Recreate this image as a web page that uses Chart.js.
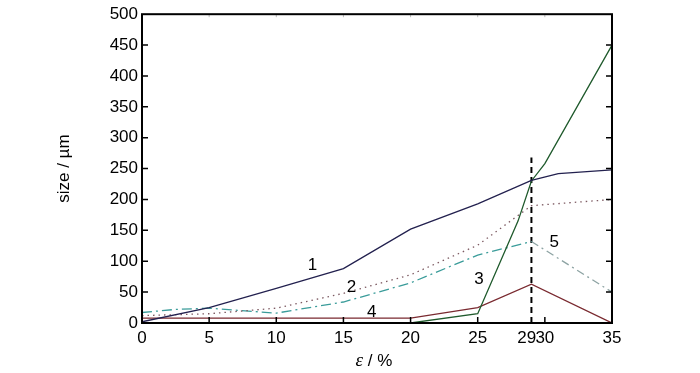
<!DOCTYPE html>
<html>
<head>
<meta charset="utf-8">
<script src="https://cdn.jsdelivr.net/npm/chart.js@4.4.1/dist/chart.umd.min.js"></script>
<style>
  html, body { margin: 0; padding: 0; background: #fff; }
  #wrap { width: 700px; height: 373px; }
</style>
</head>
<body>
<div id="wrap"><canvas id="chart"></canvas></div>
<script>
// strain (%) and grain size (um)
const xTicks = [0, 5, 10, 15, 20, 25, 29, 30, 35];
const yTicks = [0, 50, 100, 150, 200, 250, 300, 350, 400, 450, 500];

const x1 = [0, 5, 10, 15, 20, 25, 29, 31, 35];
const y1 = [2, 25, 56, 88, 152, 193, 231, 242, 248];

const x2 = [0, 5, 10, 15, 20, 25, 29, 35];
const y2 = [12, 15, 24, 48, 78, 126, 190, 200];

const x3 = [0, 20, 25, 28, 29, 30, 35];
const y3 = [0, 0, 15, 165, 230, 258, 450];

const x4 = [0, 20, 25, 29, 35];
const y4 = [8, 8, 25, 63, 0];

const xTeal = [0, 2.5, 5, 10, 15, 20, 25, 29];
const yTeal = [17, 22, 24, 16, 34, 65, 110, 132];

const x5 = [29, 35];
const y5 = [132, 50];

const xMark = [29, 29];
const yMark = [0, 268];

// curve labels: text, x, y in data units
const labelText = ['1', '2', '3', '4', '5'];
const labelX = [12.7, 15.6, 25.1, 17.1, 30.7];
const labelY = [94, 57, 70, 18, 131];

const FONT = '"Liberation Sans", Arial, sans-serif';

function pts(xs, ys) {
    return xs.map((x, i) => ({ x: x, y: ys[i] }));
}

function series(xs, ys, color, dash, width) {
    return {
        data: pts(xs, ys),
        showLine: true,
        borderColor: color,
        borderWidth: width || 1.3,
        borderDash: dash || [],
        pointRadius: 0,
        fill: false,
        tension: 0
    };
}

const frame = {
    id: 'frame',
    afterDraw(chart) {
        const ctx = chart.ctx;
        const a = chart.chartArea;
        const sx = chart.scales.x;
        const sy = chart.scales.y;
        ctx.save();
        ctx.strokeStyle = '#000';
        ctx.lineWidth = 1.5;
        ctx.beginPath();
        xTicks.forEach(v => {
            if (v === 29 || v === 0 || v === 35) return;
            const px = sx.getPixelForValue(v);
            ctx.moveTo(px, a.bottom);
            ctx.lineTo(px, a.bottom - 6);
        });
        yTicks.forEach(v => {
            if (v === 0 || v === 500) return;
            const py = sy.getPixelForValue(v);
            ctx.moveTo(a.left, py);
            ctx.lineTo(a.left + 6, py);
            ctx.moveTo(a.right, py);
            ctx.lineTo(a.right - 6, py);
        });
        ctx.stroke();

        ctx.strokeStyle = '#bbb';
        ctx.lineWidth = 1;
        ctx.beginPath();
        xTicks.forEach(v => {
            if (v === 29 || v === 0 || v === 35) return;
            const px = sx.getPixelForValue(v);
            ctx.moveTo(px, a.top);
            ctx.lineTo(px, a.top + 3);
        });
        ctx.stroke();

        ctx.strokeStyle = '#000';
        ctx.lineWidth = 2;
        ctx.strokeRect(a.left, a.top, a.right - a.left, a.bottom - a.top);

        ctx.fillStyle = '#000';
        ctx.font = '17px ' + FONT;
        ctx.textAlign = 'center';
        ctx.textBaseline = 'middle';
        labelText.forEach((t, i) => {
            ctx.fillText(t, sx.getPixelForValue(labelX[i]), sy.getPixelForValue(labelY[i]));
        });

        // x axis title with italic epsilon
        const cx = (a.left + a.right) / 2 - 3;
        const cy = 361;
        ctx.font = 'italic 19px "Liberation Serif", "Times New Roman", serif';
        const eps = 'ε';
        const w1 = ctx.measureText(eps).width;
        ctx.font = '17px ' + FONT;
        const rest = ' / %';
        const w2 = ctx.measureText(rest).width;
        const start = cx - (w1 + w2) / 2;
        ctx.textAlign = 'left';
        ctx.font = 'italic 19px "Liberation Serif", "Times New Roman", serif';
        ctx.fillText(eps, start, cy);
        ctx.font = '17px ' + FONT;
        ctx.fillText(rest, start + w1, cy);
        ctx.restore();
    }
};

const ctx = document.getElementById('chart').getContext('2d');

new Chart(ctx, {
    type: 'scatter',
    data: {
        datasets: [
            series(x1, y1, '#23214f'),
            series(x2, y2, '#7d5a62', [1.5, 4]),
            series(x3, y3, '#1f5a2c'),
            series(x4, y4, '#7a2a30'),
            series(xTeal, yTeal, '#3a9c9a', [10, 4, 2, 4]),
            series(x5, y5, '#8da3a3', [8, 4, 2, 4]),
            series(xMark, yMark, '#000', [6, 4], 2)
        ]
    },
    options: {
        responsive: true,
        maintainAspectRatio: false,
        animation: false,
        layout: {
            padding: { left: 0, right: 88, top: 14, bottom: 0 }
        },
        scales: {
            x: {
                type: 'linear',
                min: 0,
                max: 35,
                afterBuildTicks: function(scale) {
                    scale.ticks = xTicks.map(v => ({ value: v }));
                },
                afterFit: function(scale) {
                    scale.height = 50;
                },
                grid: { display: false, drawTicks: false },
                border: { display: false },
                ticks: {
                    autoSkip: false,
                    maxRotation: 0,
                    padding: 5,
                    color: '#000',
                    font: { family: FONT, size: 17 },
                    callback: function(value) {
                        return value === 29 ? '29  ' : String(value);
                    }
                }
            },
            y: {
                type: 'linear',
                min: 0,
                max: 500,
                afterBuildTicks: function(scale) {
                    scale.ticks = yTicks.map(v => ({ value: v }));
                },
                afterFit: function(scale) {
                    scale.width = 142;
                },
                grid: { display: false, drawTicks: false },
                border: { display: false },
                title: {
                    display: true,
                    text: 'size / µm',
                    color: '#000',
                    font: { family: FONT, size: 17 },
                    padding: { top: 54, bottom: 0 }
                },
                ticks: {
                    padding: 4,
                    color: '#000',
                    font: { family: FONT, size: 17 }
                }
            }
        },
        plugins: {
            legend: { display: false },
            tooltip: { enabled: false }
        }
    },
    plugins: [frame]
});
</script>
</body>
</html>
